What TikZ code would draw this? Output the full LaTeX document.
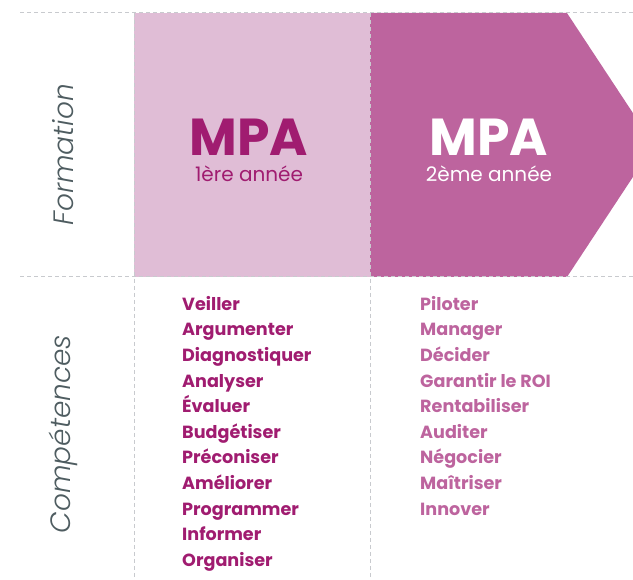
\documentclass[tikz,border=0pt]{standalone}
\usepackage{fontspec}
\setmainfont{Poppins}
\newfontfamily\lightfont{Poppins Light}[ItalicFont={Poppins Light Italic}]
\definecolor{lightbox}{RGB}{224,189,214}
\definecolor{darkbox}{RGB}{189,100,158}
\definecolor{darkmag}{RGB}{160,28,112}
\definecolor{midmag}{RGB}{189,100,158}
\definecolor{dashgray}{RGB}{200,202,206}
\definecolor{labelgray}{RGB}{78,92,96}
\begin{document}
\begin{tikzpicture}[x=1pt,y=-1pt,
  dashline/.style={draw=dashgray,line width=1pt,dash pattern=on 4pt off 3pt},
  sidelabel/.style={rotate=90,text=labelgray,font=\lightfont\itshape\fontsize{28}{28}\selectfont},
  bigmpa/.style={font=\bfseries\fontsize{52}{52}\selectfont,inner sep=0pt},
  year/.style={font=\fontsize{20}{20}\selectfont,inner sep=0pt},
  skill/.style={font=\bfseries\fontsize{17.6}{25.6}\selectfont,align=left,anchor=north west,inner sep=0pt}]
\useasboundingbox (0,0) rectangle (633,580);
\begin{scope}
\clip (0,0) rectangle (633,580);
\fill[lightbox] (134,13) rectangle (370,277);
\fill[darkbox] (370,13) -- (567,13) -- (654,145) -- (567,277) -- (370,277) -- cycle;
\end{scope}
\draw[dashline] (20,13) -- (633,13);
\draw[dashline] (20,277) -- (633,277);
\draw[dashline] (134,13) -- (134,580);
\draw[dashline] (370,13) -- (370,580);
\node[sidelabel] (formation) at (63,155) {Formation};
\node[sidelabel] (competences) at (63,434) {Compétences};
\node[bigmpa,text=darkmag] (mpa1) at (249,137) {MPA};
\node[year,text=darkmag] (an1) at (249,174) {1ère année};
\node[bigmpa,text=white] (mpa2) at (489,137) {MPA};
\node[year,text=white] (an2) at (489,174) {2ème année};
\node[skill,text=darkmag] (list1) at (182,296) {Veiller\\Argumenter\\Diagnostiquer\\Analyser\\Évaluer\\Budgétiser\\Préconiser\\Améliorer\\Programmer\\Informer\\Organiser};
\node[skill,text=midmag] (list2) at (420,296) {Piloter\\Manager\\Décider\\Garantir le ROI\\Rentabiliser\\Auditer\\Négocier\\Maîtriser\\Innover};
\end{tikzpicture}
\end{document}
